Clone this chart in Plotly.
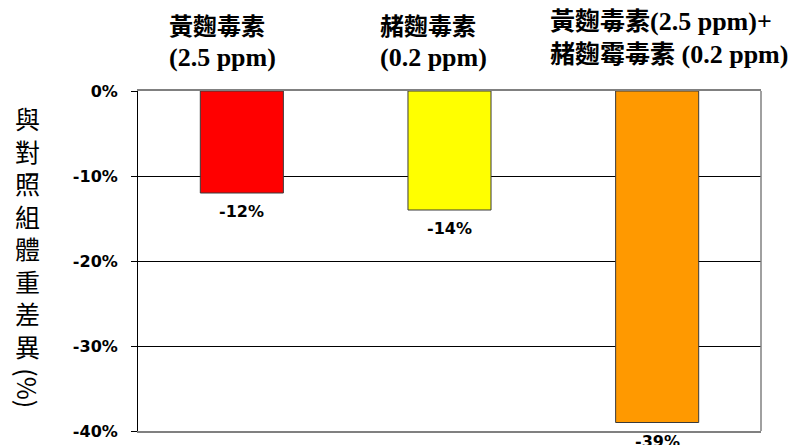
import re
import plotly.graph_objects as go

# ---- data ----
categories = ["黃麴毒素<br>(2.5 ppm)",
              "赭麴毒素<br>(0.2 ppm)",
              "黃麴毒素(2.5 ppm)+<br>赭麴霉毒素 (0.2 ppm)"]
values = [-12, -14, -39]
value_labels = ["-12%", "-14%", "-39%"]
bar_colors = ["#FF0000", "#FFFF00", "#FF9900"]
tick_vals = [0, -10, -20, -30, -40]
tick_text = ["0%", "-10%", "-20%", "-30%", "-40%"]
y_title_chars = ["與", "對", "照", "組", "體", "重", "差", "異"]
y_title_unit = "(%)"

xpos = list(range(len(categories)))


def style_header(text, latin_size):
    # enlarge the Latin (serif) runs a little relative to the CJK glyphs
    lines = text.split("<br>")
    out = []
    for ln in lines:
        out.append(re.sub(r"([\x20-\x7e]+)",
                          lambda m: f'<span style="font-size:{latin_size}px">{m.group(1)}</span>',
                          ln))
    return "<br>".join(out)


fig = go.Figure()
fig.add_trace(go.Bar(
    x=xpos, y=values,
    marker=dict(color=bar_colors, line=dict(color="#3a3a3a", width=1)),
    width=0.4,
    hoverinfo="skip",
))

label_font = dict(family="DejaVu Sans", size=16, color="black", weight="bold")
for x, v, t in zip(xpos, values, value_labels):
    fig.add_annotation(x=x, y=v, xref="x", yref="y", text=t, showarrow=False,
                       yanchor="top", yshift=-7, font=label_font)

head_cjk_size = [24, 24, 25]
head_latin_size = [26, 26, 26]
head_shift = [-75, -72, -109]
head_yshift = [17, 17, 20]
for x, t, cs, ls, xs, ys in zip(xpos, categories, head_cjk_size, head_latin_size,
                                head_shift, head_yshift):
    fig.add_annotation(x=x, y=1, xref="x", yref="paper", text=style_header(t, ls),
                       showarrow=False, xanchor="left", yanchor="bottom", align="left",
                       xshift=xs, yshift=ys,
                       font=dict(family="Liberation Serif, Noto Sans CJK TC", size=cs,
                                 color="black", weight="bold"))

ytitle_font = dict(family="Noto Sans CJK TC", size=25, color="black")
fig.add_annotation(x=-0.1766, y=0.585, xref="paper", yref="paper",
                   text="<br>".join(y_title_chars), showarrow=False,
                   xanchor="center", yanchor="middle", font=ytitle_font)
fig.add_annotation(x=-0.1766, y=0.126, xref="paper", yref="paper",
                   text=y_title_unit, showarrow=False, textangle=90,
                   xanchor="center", yanchor="middle", font=ytitle_font)

# right border of plot area
fig.add_shape(type="line", xref="paper", yref="paper", x0=1, x1=1, y0=0, y1=1,
              line=dict(color="#808080", width=1.5))

fig.update_layout(
    width=798, height=445,
    margin=dict(l=138, r=37, t=91, b=14, autoexpand=False),
    paper_bgcolor="white", plot_bgcolor="white",
    showlegend=False,
    xaxis=dict(range=[-0.5, 2.5], showticklabels=False, ticks="",
               showgrid=False, zeroline=False, automargin=False,
               showline=True, linecolor="#808080", linewidth=1.5, mirror=True),
    yaxis=dict(range=[-40, 0], tickvals=tick_vals, ticktext=tick_text,
               ticks="outside", ticklen=6, tickcolor="black", tickwidth=1,
               ticklabelstandoff=10, automargin=False,
               tickfont=dict(family="DejaVu Sans", size=16, color="black", weight="bold"),
               showgrid=True, gridcolor="black", gridwidth=1,
               zeroline=False, showline=True, linecolor="black", linewidth=1),
)

fig.write_html("out.html")
